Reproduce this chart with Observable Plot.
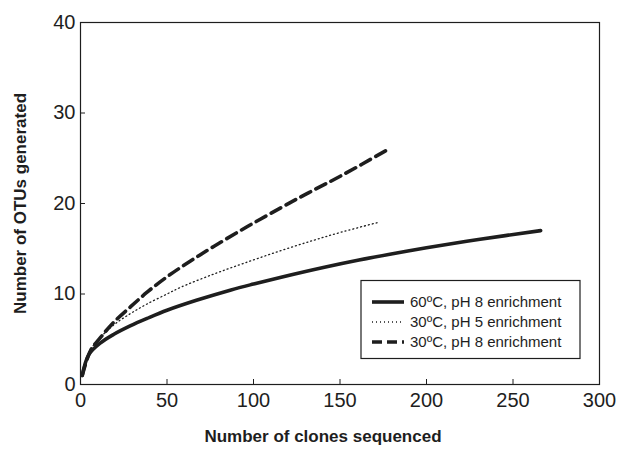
<!DOCTYPE html>
<html>
<head>
<meta charset="utf-8">
<script src="https://cdn.jsdelivr.net/npm/d3@7"></script>
<script src="https://cdn.jsdelivr.net/npm/@observablehq/plot@0.6"></script>
<style>
  html, body { margin: 0; padding: 0; background: #fff; }
</style>
</head>
<body>
<div id="chart"></div>
<script>
// Tick values
const xTicks = [0, 50, 100, 150, 200, 250, 300];
const yTicks = [0, 10, 20, 30, 40];

// Series labels
const seriesNames = ["60ºC, pH 8 enrichment", "30ºC, pH 5 enrichment", "30ºC, pH 8 enrichment"];

// 60ºC, pH 8 enrichment (solid)
const solidX = [1, 4.8, 11.6, 19.3, 29, 38.5, 50, 67, 87, 100, 116, 141, 161, 182, 200, 231, 266];
const solidY = [1, 3.3, 4.6, 5.55, 6.5, 7.3, 8.2, 9.3, 10.45, 11.1, 11.85, 12.95, 13.75, 14.5, 15.1, 16.05, 17.0];

// 30ºC, pH 5 enrichment (dotted)
const dotX = [1, 5, 12, 20, 29, 38.5, 50, 58, 77, 96, 116, 135, 152, 172];
const dotY = [1, 3.6, 5.3, 6.7, 7.85, 8.9, 10.0, 10.75, 12.2, 13.5, 14.8, 15.95, 16.9, 17.9];

// 30ºC, pH 8 enrichment (dashed)
const dashX = [1, 5.8, 11.6, 19.3, 29, 38.5, 50, 63.6, 77, 96, 116, 132, 151, 178];
const dashY = [1, 3.75, 5.2, 6.9, 8.6, 10.2, 11.9, 13.65, 15.25, 17.4, 19.55, 21.2, 23.1, 26.0];

const toRows = (xs, ys) => xs.map((x, i) => ({x, y: ys[i]}));
const solid = toRows(solidX, solidY);
const dotted = toRows(dotX, dotY);
const dashed = toRows(dashX, dashY);

const ink = "#1e1e1e";
const font = "'Liberation Sans', Arial, Helvetica, sans-serif";

const chart = Plot.plot({
  width: 618,
  height: 454,
  marginLeft: 80,
  marginRight: 19,
  marginTop: 22,
  marginBottom: 70,
  style: {fontFamily: font, color: ink, background: "#fff"},
  x: {domain: [0, 300], label: null},
  y: {domain: [0, 40], label: null},
  marks: [
    Plot.frame({stroke: ink, strokeWidth: 1.2}),
    Plot.axisX(xTicks, {tickSize: 0, tickPadding: 8, fontSize: 20, label: null}),
    Plot.axisY(yTicks, {tickSize: 0, tickPadding: 5, fontSize: 20, label: null}),
    Plot.tickX(xTicks, {x: d => d, insetTop: 357, stroke: ink}),
    Plot.tickY(yTicks, {y: d => d, insetRight: 514, stroke: ink}),
    Plot.line(dotted, {x: "x", y: "y", stroke: ink, strokeWidth: 1.3, strokeDasharray: "1,3", curve: "catmull-rom"}),
    Plot.line(dashed, {x: "x", y: "y", stroke: ink, strokeWidth: 3.6, strokeDasharray: "11,6", curve: "catmull-rom"}),
    Plot.line(solid, {x: "x", y: "y", stroke: ink, strokeWidth: 3.6, curve: "catmull-rom"}),
    Plot.text(["Number of clones sequenced"], {frameAnchor: "bottom", dy: 57, dx: -17, fontSize: 17, fontWeight: "bold", fill: ink}),
    Plot.text(["Number of OTUs generated"], {frameAnchor: "left", textAnchor: "middle", dx: -60, rotate: -90, fontSize: 17, fontWeight: "bold", fill: ink})
  ]
});

document.getElementById("chart").appendChild(chart);

// Legend box
const svg = d3.select(chart);
const lg = svg.append("g").attr("font-family", font).attr("font-size", 15).attr("fill", ink).attr("text-anchor", "start");
lg.append("rect").attr("x", 361).attr("y", 280.5).attr("width", 219).attr("height", 78)
  .attr("fill", "#fff").attr("stroke", ink).attr("stroke-width", 1.2);
const styles = [
  {w: 3.6, dash: null},
  {w: 1.3, dash: "1,3"},
  {w: 3.6, dash: "10,5"}
];
seriesNames.forEach((name, i) => {
  const cy = 302 + i * 20;
  const ln = lg.append("line").attr("x1", 372).attr("x2", 404).attr("y1", cy).attr("y2", cy)
    .attr("stroke", ink).attr("stroke-width", styles[i].w);
  if (styles[i].dash) ln.attr("stroke-dasharray", styles[i].dash);
  lg.append("text").attr("x", 410).attr("y", cy).attr("dy", "0.35em").attr("text-anchor", "start").text(name);
});
</script>
</body>
</html>
